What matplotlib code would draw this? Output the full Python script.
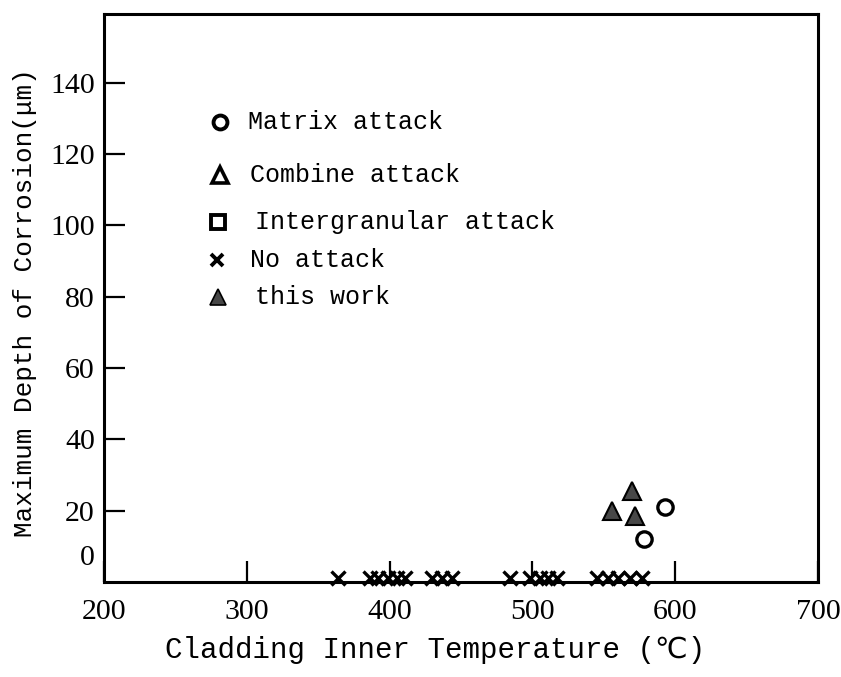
import matplotlib
matplotlib.use("Agg")
import matplotlib.pyplot as plt

# ---- data ----
no_attack_temp = [364, 386, 392, 399, 405, 411, 430, 437, 444, 484,
                  498, 505, 511, 517, 545, 553, 560, 568, 577]
no_attack_depth = [1] * len(no_attack_temp)
matrix_temp = [578, 593]
matrix_depth = [12, 21]
this_work_temp = [556, 570, 572]
this_work_depth = [20, 25.5, 18.5]

x_ticks = [200, 300, 400, 500, 600, 700]
y_ticks = [20, 40, 60, 80, 100, 120, 140]

legend_labels = ["Matrix attack", "Combine attack", "Intergranular attack",
                 "No attack", "this work"]

W, H = 841, 677
fig = plt.figure(figsize=(W / 100, H / 100), dpi=100)
ax = fig.add_axes([104 / W, 1 - 582 / H, 714 / W, 568 / H])

ax.set_xlim(200, 700)
ax.set_ylim(0, 159.3)

mono = ["Liberation Mono", "DejaVu Sans", "Noto Sans CJK JP"]
serif = ["Liberation Serif", "DejaVu Serif"]

# data marks
ax.plot(no_attack_temp, no_attack_depth, linestyle="none", marker="x",
        markersize=10.5, mew=2.4, color="black", clip_on=False, zorder=5)
ax.plot(matrix_temp, matrix_depth, linestyle="none", marker="o",
        markersize=11, mew=2.4, mfc="white", mec="black", zorder=5)
ax.plot(this_work_temp, this_work_depth, linestyle="none", marker="^",
        markersize=13.5, mew=1.5, mfc="#474747", mec="black", zorder=5)

# spines
for s in ax.spines.values():
    s.set_linewidth(2.2)
    s.set_color("black")

ax.set_xticks(x_ticks)
ax.set_xticklabels([str(v) for v in x_ticks])
ax.set_yticks(y_ticks)
ax.set_yticklabels([str(v) for v in y_ticks])
ax.tick_params(axis="both", direction="in", length=15, width=1.6,
               color="black")
ax.tick_params(axis="x", pad=12)
ax.tick_params(axis="y", pad=6.5)
for lab in ax.get_xticklabels() + ax.get_yticklabels():
    lab.set_fontfamily(serif)
    lab.set_fontsize(21.5)

# stray "0" label (no tick)
ax.text(-0.013, 6.7, "0", transform=ax.get_yaxis_transform(),
        ha="right", va="center", fontsize=21.5, family=serif)

# legend (manual, as in original)
leg_markers = [
    dict(marker="o", mfc="white", mec="black", ms=10, mew=2.8),
    dict(marker="^", mfc="white", mec="black", ms=11, mew=2.6),
    dict(marker="s", mfc="white", mec="black", ms=9.5, mew=2.8),
    dict(marker="x", color="black", ms=9, mew=2.8),
    dict(marker="^", mfc="#474747", mec="black", ms=12, mew=1.2),
]
leg_mx = [220, 220, 218, 217, 218]
leg_tx = [248, 250, 255, 250, 255]
leg_y = [122, 175, 222, 260, 297]
for mk, mx, tx, py, lab in zip(leg_markers, leg_mx, leg_tx, leg_y, legend_labels):
    ax.plot([(mx - 104) / 714], [(582 - py) / 568], linestyle="none",
            transform=ax.transAxes, **mk)
    ax.text((tx - 104) / 714, (582 - py) / 568, lab, transform=ax.transAxes,
            ha="left", va="center", fontsize=18, family=mono)

# axis labels
fig.text(435 / W, 1 - 650 / H, "Cladding Inner Temperature (℃)",
         ha="center", va="center", fontsize=21, family=mono)
fig.text(25 / W, 1 - 303 / H, "Maximum Depth of Corrosion(μm)",
         ha="center", va="center", rotation=90, fontsize=18.7, family=mono)

fig.savefig("out.png", dpi=100)
